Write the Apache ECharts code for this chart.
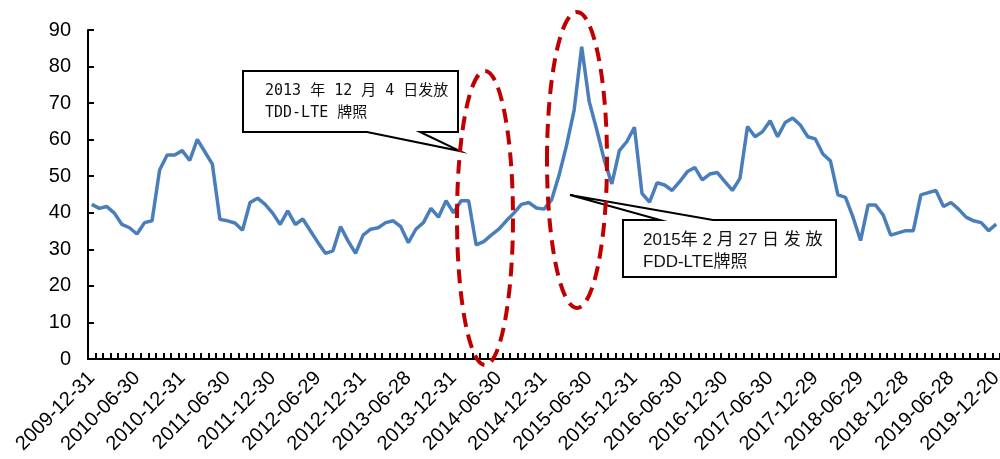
<!DOCTYPE html>
<html>
<head>
<meta charset="utf-8">
<script src="https://cdn.jsdelivr.net/npm/echarts@6/dist/echarts.min.js"></script>
<style>
  html, body { margin: 0; padding: 0; background: #fff; }
  #chart { width: 1000px; height: 459px; }
</style>
</head>
<body>
<div id="chart"></div>
<script>
  // month-end dates
  let dates = [
    '2009-12-31',
    '2010-01-29', '2010-02-26', '2010-03-31', '2010-04-30', '2010-05-31', '2010-06-30',
    '2010-07-30', '2010-08-31', '2010-09-30', '2010-10-29', '2010-11-30', '2010-12-31',
    '2011-01-31', '2011-02-28', '2011-03-31', '2011-04-29', '2011-05-31', '2011-06-30',
    '2011-07-29', '2011-08-31', '2011-09-30', '2011-10-31', '2011-11-30', '2011-12-30',
    '2012-01-31', '2012-02-29', '2012-03-30', '2012-04-27', '2012-05-31', '2012-06-29',
    '2012-07-31', '2012-08-31', '2012-09-28', '2012-10-31', '2012-11-30', '2012-12-31',
    '2013-01-31', '2013-02-28', '2013-03-29', '2013-04-26', '2013-05-31', '2013-06-28',
    '2013-07-31', '2013-08-30', '2013-09-30', '2013-10-31', '2013-11-29', '2013-12-31',
    '2014-01-30', '2014-02-28', '2014-03-31', '2014-04-30', '2014-05-30', '2014-06-30',
    '2014-07-31', '2014-08-29', '2014-09-30', '2014-10-31', '2014-11-28', '2014-12-31',
    '2015-01-30', '2015-02-27', '2015-03-31', '2015-04-30', '2015-05-29', '2015-06-30',
    '2015-07-31', '2015-08-31', '2015-09-30', '2015-10-30', '2015-11-30', '2015-12-31',
    '2016-01-29', '2016-02-29', '2016-03-31', '2016-04-29', '2016-05-31', '2016-06-30',
    '2016-07-29', '2016-08-31', '2016-09-30', '2016-10-31', '2016-11-30', '2016-12-30',
    '2017-01-26', '2017-02-28', '2017-03-31', '2017-04-28', '2017-05-31', '2017-06-30',
    '2017-07-31', '2017-08-31', '2017-09-29', '2017-10-31', '2017-11-30', '2017-12-29',
    '2018-01-31', '2018-02-28', '2018-03-30', '2018-04-27', '2018-05-31', '2018-06-29',
    '2018-07-31', '2018-08-31', '2018-09-28', '2018-10-31', '2018-11-30', '2018-12-28',
    '2019-01-31', '2019-02-28', '2019-03-29', '2019-04-30', '2019-05-31', '2019-06-28',
    '2019-07-31', '2019-08-30', '2019-09-30', '2019-10-31', '2019-11-29', '2019-12-20'
  ]

  let values = [
    42.3,
    41.2, 41.7, 39.9, 36.8, 35.9, 34.2, 37.3, 37.8, 51.7, 55.8, 55.8, 57.0,
    54.3, 60.1, 56.7, 53.3, 38.2, 37.8, 37.2, 35.2, 42.8, 44.0, 42.3, 39.9,
    36.8, 40.5, 36.8, 38.3, 35.1, 31.9, 28.9, 29.6, 36.2, 32.3, 28.9, 33.9,
    35.5, 35.9, 37.3, 37.8, 36.2, 31.8, 35.5, 37.3, 41.2, 38.8, 43.3, 40.0,
    43.3, 43.3, 31.2, 32.1, 33.9, 35.5, 37.8, 39.9, 42.3, 42.8, 41.3, 41.0,
    43.5, 50.3, 58.5, 68.1, 85.4, 70.4, 62.7, 54.4, 47.9, 57.0, 59.5, 63.4,
    45.3, 42.9, 48.2, 47.6, 46.1, 48.5, 51.2, 52.4, 49.0, 50.6, 51.0, 48.5,
    46.1, 49.4, 63.6, 60.8, 62.2, 65.2, 60.8, 64.7, 65.9, 64.0, 60.8, 60.2,
    56.1, 54.2, 44.9, 44.2, 38.8, 32.4, 42.1, 42.1, 39.4, 33.9, 34.5, 35.1,
    35.1, 44.9, 45.5, 46.1, 41.7, 42.8, 41.0, 38.8, 37.8, 37.3, 35.1, 36.9
  ]

  let yTicks = [0, 10, 20, 30, 40, 50, 60, 70, 80, 90]

  let note1 = ['2013 年 12 月 4 日发放', 'TDD-LTE 牌照']
  let note2 = ['2015年 2 月 27 日 发 放', 'FDD-LTE牌照']

  let axisFont = 'Liberation Sans, Arial, sans-serif'
  let redDash = {fill: 'none', stroke: '#c00000', lineWidth: 4, lineDash: [14, 8]}

  let chart = echarts.init(document.getElementById('chart'), null, {renderer: 'canvas'})

  chart.setOption({
    animation: false,
    backgroundColor: '#fff',
    grid: {
      left: 88,
      right: 0,
      top: 30,
      bottom: 100,
      outerBoundsMode: 'none'
    },
    xAxis: {
      type: 'category',
      data: dates,
      boundaryGap: true,
      axisLine: {lineStyle: {color: '#000', width: 2}},
      axisTick: {show: true, inside: true, length: 6, interval: 0, lineStyle: {color: '#000', width: 2}},
      axisLabel: {
        interval: 5,
        rotate: 45,
        margin: 16,
        color: '#000',
        fontSize: 20,
        fontFamily: axisFont
      },
      splitLine: {show: false}
    },
    yAxis: {
      type: 'value',
      min: yTicks[0],
      max: yTicks[yTicks.length - 1],
      interval: 10,
      axisLine: {show: true, lineStyle: {color: '#000', width: 2}},
      axisTick: {show: true, inside: true, length: 6, lineStyle: {color: '#000', width: 2}},
      axisLabel: {
        margin: 17,
        color: '#000',
        fontSize: 20,
        fontFamily: axisFont
      },
      splitLine: {show: false}
    },
    series: [
      {
        type: 'line',
        data: values,
        showSymbol: false,
        symbol: 'none',
        lineStyle: {color: '#4a7ebb', width: 3.5},
        z: 2
      }
    ],
    graphic: [
      // callout 1
      {
        type: 'polygon',
        z: 10,
        shape: {points: [[243, 71], [458, 71], [458, 132], [420, 132], [460, 151], [367, 132], [243, 132]]},
        style: {fill: '#fff', stroke: '#000', lineWidth: 2}
      },
      {
        type: 'text', z: 11,
        style: {x: 265, y: 91, text: note1[0], fill: '#111', font: '15px "DejaVu Sans Mono", "Noto Sans CJK SC", monospace', verticalAlign: 'middle'}
      },
      {
        type: 'text', z: 11,
        style: {x: 265, y: 113, text: note1[1], fill: '#111', font: '15px "DejaVu Sans Mono", "Noto Sans CJK SC", monospace', verticalAlign: 'middle'}
      },
      // callout 2
      {
        type: 'polygon',
        z: 10,
        shape: {points: [[623, 220], [660, 220], [570, 195], [713, 220], [836, 220], [836, 277], [623, 277]]},
        style: {fill: '#fff', stroke: '#000', lineWidth: 2}
      },
      {
        type: 'text', z: 11,
        style: {x: 643, y: 240, text: note2[0], fill: '#111', font: '17px "Liberation Sans", "Noto Sans CJK SC", sans-serif', verticalAlign: 'middle'}
      },
      {
        type: 'text', z: 11,
        style: {x: 643, y: 262, text: note2[1], fill: '#111', font: '17px "Liberation Sans", "Noto Sans CJK SC", sans-serif', verticalAlign: 'middle'}
      },
      // dashed ellipses
      {
        type: 'ellipse', z: 12,
        shape: {cx: 485, cy: 218, rx: 28, ry: 147},
        style: redDash
      },
      {
        type: 'ellipse', z: 12,
        shape: {cx: 577, cy: 160, rx: 30, ry: 148},
        style: redDash
      }
    ]
  })
</script>
</body>
</html>
